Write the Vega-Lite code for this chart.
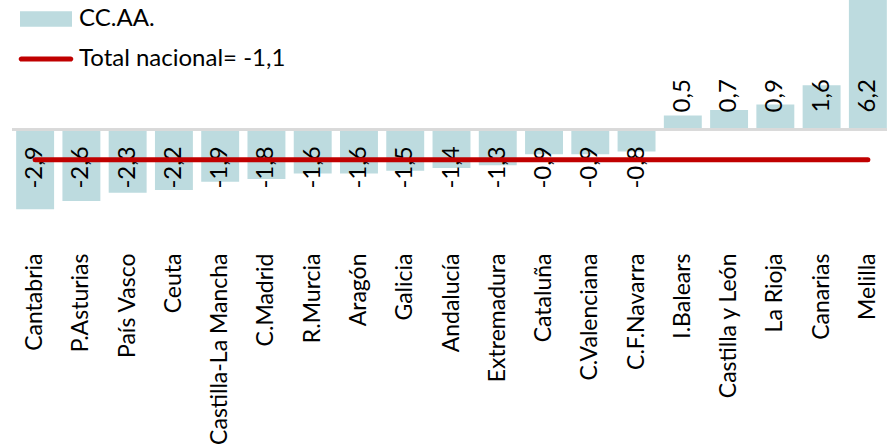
{
  "$schema": "https://vega.github.io/schema/vega-lite/v6.json",
  "width": 879,
  "height": 245,
  "autosize": {"type": "none"},
  "padding": {"left": 12, "top": 0, "right": 0, "bottom": 201},
  "background": "white",
  "config": {"view": {"stroke": null}, "font": "Lato", "legend": {"padding": 0}},
  "data": {
    "values": [
      {"region": "Cantabria", "value": -2.9, "label": "-2,9"},
      {"region": "P.Asturias", "value": -2.6, "label": "-2,6"},
      {"region": "País Vasco", "value": -2.3, "label": "-2,3"},
      {"region": "Ceuta", "value": -2.2, "label": "-2,2"},
      {"region": "Castilla-La Mancha", "value": -1.9, "label": "-1,9"},
      {"region": "C.Madrid", "value": -1.8, "label": "-1,8"},
      {"region": "R.Murcia", "value": -1.6, "label": "-1,6"},
      {"region": "Aragón", "value": -1.6, "label": "-1,6"},
      {"region": "Galicia", "value": -1.5, "label": "-1,5"},
      {"region": "Andalucía", "value": -1.4, "label": "-1,4"},
      {"region": "Extremadura", "value": -1.3, "label": "-1,3"},
      {"region": "Cataluña", "value": -0.9, "label": "-0,9"},
      {"region": "C.Valenciana", "value": -0.9, "label": "-0,9"},
      {"region": "C.F.Navarra", "value": -0.8, "label": "-0,8"},
      {"region": "I.Balears", "value": 0.5, "label": "0,5"},
      {"region": "Castilla y León", "value": 0.7, "label": "0,7"},
      {"region": "La Rioja", "value": 0.9, "label": "0,9"},
      {"region": "Canarias", "value": 1.6, "label": "1,6"},
      {"region": "Melilla", "value": 6.2, "label": "6,2"}
    ]
  },
  "encoding": {
    "x": {
      "field": "region",
      "type": "nominal",
      "sort": null,
      "scale": {"paddingInner": 0.18, "paddingOuter": 0.09},
      "axis": {
        "title": null,
        "domain": false,
        "ticks": false,
        "labelAngle": -90,
        "labelAlign": "right",
        "labelBaseline": "middle",
        "labelPadding": 8,
        "labelFontSize": 23,
        "labelColor": "#000000",
        "labelFont": "Lato",
        "labelLimit": 300
      }
    }
  },
  "layer": [
    {
      "mark": {"type": "bar", "clip": true},
      "encoding": {
        "y": {"field": "value", "type": "quantitative", "scale": {"domain": [-4.2, 4.7], "nice": false}, "axis": null},
        "color": {
          "datum": "CC.AA.",
          "type": "nominal",
          "scale": {"domain": ["CC.AA.", "Total nacional= -1,1"], "range": ["#bddbdf", "#c00000"]},
          "legend": {
            "title": null,
            "orient": "none",
            "legendX": 21,
            "legendY": 6,
            "direction": "vertical",
            "symbolSize": 676,
            "labelOffset": 20,
            "labelFontSize": 24,
            "labelFont": "Lato",
            "labelColor": "#000000",
            "rowPadding": 15,
            "labelLimit": 400,
            "encode": {
              "symbols": {
                "update": {
                  "shape": {"signal": "datum.value === 'CC.AA.' ? 'M-2,-0.6H2V0.6H-2Z' : 'M-1.9,-0.2H1.9A0.2,0.2 0 0 1 1.9,0.2H-1.9A0.2,0.2 0 0 1 -1.9,-0.2Z'"},
                  "fill": {"scale": "color", "field": "value"},
                  "stroke": {"value": "transparent"},
                  "strokeWidth": {"value": 0},
                  "opacity": {"value": 1},
                  "fillOpacity": {"value": 1}
                }
              }
            }
          }
        }
      }
    },
    {
      "mark": {"type": "rule", "color": "#d9d9d9", "strokeWidth": 2},
      "encoding": {"y": {"datum": 0, "type": "quantitative"}, "x": null}
    },
    {
      "transform": [{"filter": "datum.value < 0"}],
      "mark": {"type": "text", "angle": 270, "align": "right", "baseline": "middle", "dx": -17, "fontSize": 24, "font": "Lato", "color": "#000000"},
      "encoding": {"y": {"datum": 0, "type": "quantitative"}, "text": {"field": "label"}}
    },
    {
      "transform": [{"filter": "datum.value >= 0"}],
      "mark": {"type": "text", "angle": 270, "align": "left", "baseline": "middle", "dx": 17, "fontSize": 24, "font": "Lato", "color": "#000000"},
      "encoding": {"y": {"datum": 0, "type": "quantitative"}, "text": {"field": "label"}}
    },
    {
      "mark": {"type": "line", "strokeWidth": 5, "strokeCap": "round"},
      "encoding": {
        "y": {"datum": -1.1, "type": "quantitative"},
        "color": {"datum": "Total nacional= -1,1", "type": "nominal"}
      }
    }
  ]
}
